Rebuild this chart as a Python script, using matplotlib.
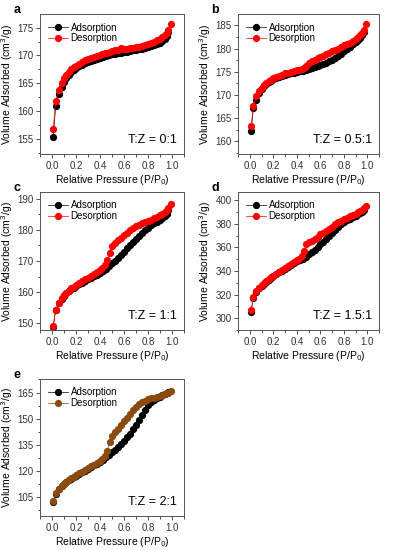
import matplotlib.pyplot as plt
from matplotlib.ticker import MultipleLocator

plt.rcParams["font.family"] = ["Liberation Sans", "DejaVu Sans"]

# relative pressure grids
ads_x = [0.01, 0.03, 0.055, 0.08, 0.10, 0.12, 0.14, 0.16, 0.18, 0.20, 0.225, 0.25, 0.275, 0.30,
         0.325, 0.35, 0.375, 0.40, 0.425, 0.45, 0.475, 0.50, 0.525, 0.55, 0.575, 0.60, 0.625,
         0.65, 0.675, 0.70, 0.725, 0.75, 0.775, 0.80, 0.825, 0.85, 0.875, 0.90, 0.92, 0.94,
         0.955, 0.97]
des_x = [0.99, 0.97, 0.955, 0.94, 0.92, 0.90, 0.875, 0.85, 0.825, 0.80, 0.775, 0.75, 0.725,
         0.70, 0.675, 0.65, 0.625, 0.60, 0.575, 0.55, 0.525, 0.50, 0.48, 0.46, 0.44, 0.42, 0.40,
         0.375, 0.35, 0.325, 0.30, 0.275, 0.25, 0.225, 0.20, 0.18, 0.16, 0.14, 0.12, 0.10, 0.08,
         0.055, 0.03, 0.01]

ads_a = [155.4, 160.9, 163.0, 164.3, 165.2, 165.9, 166.5, 167.0, 167.4, 167.7, 168.05, 168.35,
         168.6, 168.85, 169.05, 169.25, 169.45, 169.6, 169.75, 169.9, 170.05, 170.2, 170.3,
         170.4, 170.5, 170.6, 170.7, 170.8, 170.9, 171.0, 171.1, 171.2, 171.35, 171.5, 171.65,
         171.8, 172.0, 172.3, 172.6, 173.0, 173.5, 174.3]
des_a = [175.6, 174.6, 174.1, 173.7, 173.3, 173.0, 172.7, 172.45, 172.25, 172.05, 171.9, 171.75,
         171.6, 171.5, 171.4, 171.3, 171.2, 171.1, 171.4, 171.0, 170.9, 170.8, 170.65, 170.5,
         170.4, 170.25, 170.1, 169.95, 169.75, 169.55, 169.35, 169.1, 168.85, 168.55, 168.2,
         167.9, 167.5, 167.0, 166.5, 165.9, 165.0, 163.8, 161.8, 156.8]

ads_b = [162.3, 167.2, 169.0, 170.5, 171.3, 171.9, 172.4, 172.8, 173.1, 173.4, 173.7, 173.95,
         174.15, 174.35, 174.5, 174.65, 174.8, 174.95, 175.1, 175.25, 175.4, 175.55, 175.75,
         175.95, 176.2, 176.45, 176.7, 177.0, 177.3, 177.65, 178.0, 178.4, 178.9, 179.4, 179.9,
         180.4, 180.9, 181.4, 181.9, 182.4, 182.9, 183.5]
des_b = [185.3, 184.0, 183.4, 183.0, 182.5, 182.1, 181.7, 181.3, 181.0, 180.7, 180.3, 180.0,
         179.7, 179.4, 179.1, 178.8, 178.5, 178.2, 177.9, 177.6, 177.3, 176.9, 176.3, 175.9,
         175.6, 175.4, 175.3, 175.15, 175.0, 174.85, 174.65, 174.4, 174.15, 173.9, 173.6, 173.3,
         173.0, 172.6, 172.1, 171.6, 170.9, 169.7, 167.7, 163.3]

ads_c = [149.0, 154.2, 156.4, 157.9, 158.8, 159.6, 160.3, 160.9, 161.5, 162.0, 162.6, 163.1,
         163.6, 164.1, 164.6, 165.1, 165.6, 166.2, 166.8, 167.5, 168.3, 169.2, 170.1, 171.0,
         171.9, 172.9, 174.0, 175.0, 176.0, 177.0, 178.0, 178.9, 179.8, 180.6, 181.4, 182.0,
         182.6, 183.2, 183.8, 184.5, 185.2, 186.2]
des_c = [188.2, 187.0, 186.3, 185.7, 185.1, 184.6, 184.1, 183.6, 183.2, 182.8, 182.4, 182.0,
         181.6, 181.1, 180.5, 179.8, 179.0, 178.3, 177.5, 176.7, 175.8, 174.7, 172.7, 170.3,
         168.6, 167.6, 167.0, 166.4, 165.8, 165.2, 164.7, 164.1, 163.6, 163.0, 162.4, 161.8,
         161.2, 160.5, 159.8, 159.0, 158.0, 156.6, 154.3, 149.2]

ads_d = [305.5, 317.0, 322.5, 325.5, 327.5, 329.3, 331.0, 332.5, 334.0, 335.5, 337.2, 338.8,
         340.4, 342.0, 343.6, 345.2, 346.8, 348.3, 349.6, 350.5, 352.2, 354.0, 356.0, 358.0,
         360.2, 362.6, 365.0, 367.5, 370.0, 372.5, 375.0, 377.5, 379.8, 381.5, 383.0, 384.3,
         385.5, 386.8, 388.0, 389.2, 390.3, 391.5]
des_d = [395.5, 393.0, 391.8, 390.8, 389.8, 388.5, 387.4, 386.3, 385.2, 384.0, 382.7, 381.2,
         379.5, 377.5, 376.0, 374.3, 372.6, 371.0, 369.0, 367.2, 365.8, 364.5, 362.5, 357.0,
         352.5, 350.2, 349.0, 347.3, 345.7, 344.1, 342.5, 340.9, 339.3, 337.7, 336.0, 334.5,
         333.0, 331.4, 329.6, 327.8, 325.8, 322.8, 317.8, 307.0]

ads_e = [102.0, 107.0, 109.5, 111.2, 112.5, 113.6, 114.6, 115.5, 116.4, 117.3, 118.3, 119.3,
         120.3, 121.3, 122.3, 123.3, 124.3, 125.3, 126.5, 127.8, 129.2, 130.7, 132.3, 134.0,
         135.7, 137.4, 139.4, 141.3, 144.0, 146.5, 149.5, 152.3, 155.2, 157.8, 159.6, 160.9,
         161.9, 162.7, 163.4, 164.0, 164.6, 165.2]
des_e = [166.0, 165.0, 164.5, 164.0, 163.5, 163.0, 162.5, 162.0, 161.6, 161.1, 160.4, 159.5,
         158.3, 156.8, 155.0, 152.9, 150.7, 148.5, 146.3, 144.3, 142.2, 140.0, 136.5, 131.5,
         128.5, 126.8, 125.8, 124.7, 123.7, 122.7, 121.7, 120.7, 119.7, 118.7, 117.7, 116.8,
         115.9, 114.9, 113.9, 112.8, 111.5, 109.8, 107.3, 103.0]

panels = [
    ("a", "T:Z = 0:1", ads_a, des_a, "#ff0000", (152.3, 177.4), 5, [0.102, 0.720, 0.366, 0.254]),
    ("b", "T:Z = 0.5:1", ads_b, des_b, "#ff0000", (157.3, 187.4), 5, [0.606, 0.720, 0.359, 0.254]),
    ("c", "T:Z = 1:1", ads_c, des_c, "#ff0000", (147.9, 192.1), 10, [0.102, 0.400, 0.366, 0.251]),
    ("d", "T:Z = 1.5:1", ads_d, des_d, "#ff0000", (290.0, 407.0), 20, [0.606, 0.400, 0.359, 0.251]),
    ("e", "T:Z = 2:1", ads_e, des_e, "#8b4a10", (94.3, 172.8), 15, [0.102, 0.062, 0.366, 0.249]),
]

fig = plt.figure(figsize=(3.93, 5.50), dpi=100)

for letter, tz, ads, des, dcol, ylim, ystep, pos in panels:
    ax = fig.add_axes(pos)
    ax.plot(ads_x, ads, "-o", color="black", lw=0.5, ms=4.2, mec="black", label="Adsorption")
    ax.plot(des_x, des, "-o", color=dcol, lw=0.5, ms=4.2, mec=dcol, label="Desorption")
    ax.set_xlim(-0.1, 1.1)
    ax.set_ylim(*ylim)
    ax.xaxis.set_major_locator(MultipleLocator(0.2))
    ax.xaxis.set_minor_locator(MultipleLocator(0.1))
    ax.yaxis.set_major_locator(MultipleLocator(ystep))
    ax.yaxis.set_minor_locator(MultipleLocator(ystep / 2))
    ax.tick_params(which="both", direction="out", labelsize=7, width=0.6, colors="#333333",
                   pad=1.8)
    ax.tick_params(which="major", length=3)
    ax.tick_params(which="minor", length=1.8)
    for s in ax.spines.values():
        s.set_linewidth(0.7)
        s.set_color("#555555")
    ax.set_xlabel("Relative Pressure (P/P$_0$)", fontsize=7.5, labelpad=1.5)
    ax.set_ylabel("Volume Adsorbed (cm$^3$/g)", fontsize=7.5, labelpad=1.5)
    ax.legend(loc="upper left", frameon=False, fontsize=7, handlelength=2.0,
              handletextpad=0.3, borderaxespad=0.3, labelspacing=0.1,
              bbox_to_anchor=(0.01, 0.99))
    ax.text(0.95, 0.06, tz, transform=ax.transAxes, ha="right", va="bottom", fontsize=9)
    fig.text(pos[0] - 0.068, pos[1] + pos[3] + 0.008, letter, fontsize=9, fontweight="bold",
             va="center", ha="left")

plt.savefig("out.png", dpi=100)
